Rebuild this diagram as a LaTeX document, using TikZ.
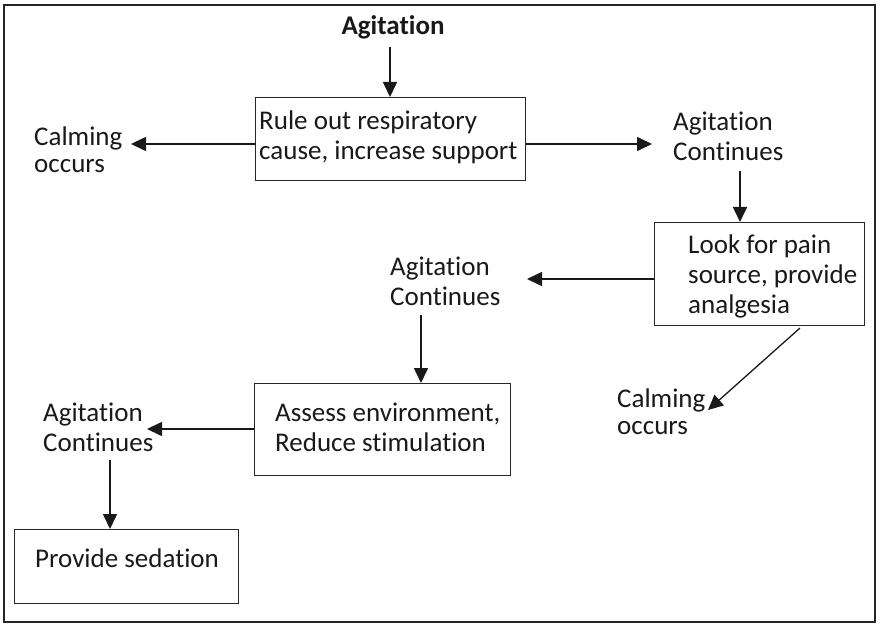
\documentclass[tikz,border=0pt]{standalone}
\usepackage{fontspec}
\setmainfont{Carlito}[Ligatures=NoCommon]
\usetikzlibrary{arrows.meta}
\begin{document}
\begin{tikzpicture}[x=1pt,y=-1pt,
  txt/.style={inner sep=0pt,align=left,anchor=base west,font=\fontsize{27}{30}\selectfont,text=black!90},
  calm/.style={txt,font=\fontsize{27}{27}\selectfont},
  stepbox/.style={draw=black!85,line width=1.2pt,inner sep=0pt},
  arr/.style={draw=black!90,line width=1.6pt,-{Triangle[length=15pt,width=14pt]}}]
\useasboundingbox (0,0) rectangle (882,628);
\draw[black!85,line width=2pt] (4,5) rectangle (875,622);
% boxes
\node[stepbox,minimum width=270pt,minimum height=83pt,anchor=north west] (b1) at (255,97) {};
\node[stepbox,minimum width=210pt,minimum height=103pt,anchor=north west] (b2) at (654,222) {};
\node[stepbox,minimum width=256pt,minimum height=92pt,anchor=north west] (b3) at (254,383) {};
\node[stepbox,minimum width=224pt,minimum height=74pt,anchor=north west] (b4) at (14,529) {};
% texts (base = baseline of last line)
\node[txt,anchor=base,font=\bfseries\fontsize{27}{30}\selectfont] (ag) at (393,35) {Agitation};
\node[txt] (t1) at (259,160) {Rule out respiratory\\cause, increase support};
\node[calm] (c1) at (34,173) {Calming\\occurs};
\node[txt] (a1) at (673,161) {Agitation\\Continues};
\node[txt] (t2) at (688,313) {Look for pain\\source, provide\\analgesia};
\node[txt] (a2) at (390,305) {Agitation\\Continues};
\node[calm] (c2) at (617,434) {Calming\\occurs};
\node[txt] (t3) at (275,451) {Assess environment,\\Reduce stimulation};
\node[txt] (a3) at (43,451) {Agitation\\Continues};
\node[txt] (t4) at (35,567) {Provide sedation};
% connector end points
\coordinate (p0) at (390,47);
\coordinate (p1) at (740,171);
\coordinate (p2) at (421,315);
\coordinate (p3) at (110,460);
\coordinate (q1) at (800,328);
\coordinate (q2) at (708,410);
% arrows
\draw[arr] (p0) -- (b1.north -| p0);
\draw[arr] (b1.west |- 0,144) -- (131,144);
\draw[arr] (b1.east |- 0,144) -- (652,144);
\draw[arr] (p1) -- (b2.north -| p1);
\draw[arr] (b2.west |- 0,279) -- (527,279);
\draw[arr] (p2) -- (b3.north -| p2);
\draw[arr] (b3.west |- 0,429) -- (147,429);
\draw[arr] (p3) -- (b4.north -| p3);
\draw[arr,line width=1.3pt] (q1) -- (q2);
\end{tikzpicture}
\end{document}
